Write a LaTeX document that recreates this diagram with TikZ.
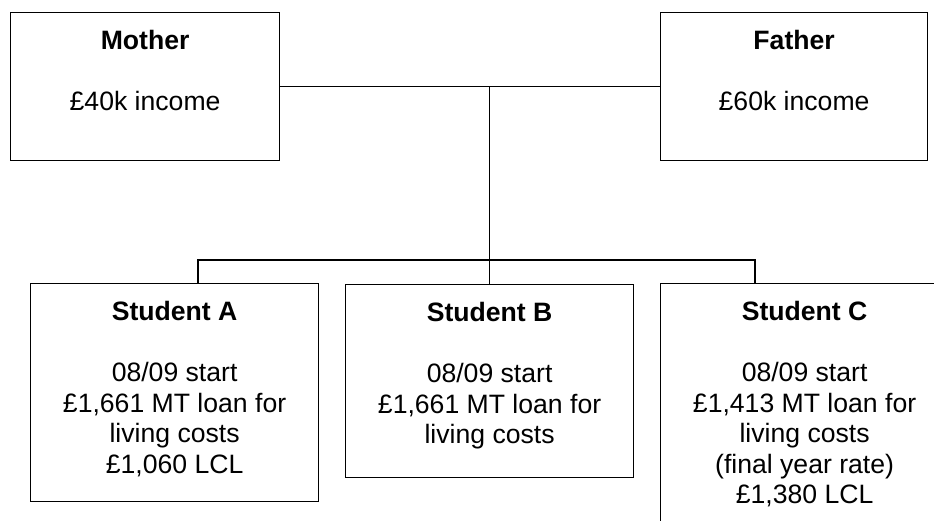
\documentclass[tikz,border=0pt]{standalone}
\usepackage{fontspec}
\setmainfont{Liberation Sans}
\begin{document}
\begin{tikzpicture}[x=1pt,y=-1pt,line width=1.2pt,
  box/.style={draw,rectangle,inner sep=0pt,anchor=north west},
  txt/.style={anchor=north,align=center,inner sep=0pt,
    font=\fontsize{26.6}{30.5}\selectfont}]
% page frame (student C runs off the edge)
\path[use as bounding box,clip] (0,0) rectangle (934,520);
% parents
\node[box,minimum width=269,minimum height=148] (mother) at (10,12) {};
\node[box,minimum width=267,minimum height=148] (father) at (660,12) {};
\node[txt] (mothertxt) at ([yshift=-18pt]mother.north) {\textbf{Mother}\\[30.5pt]£40k income};
\node[txt] (fathertxt) at ([yshift=-18pt]father.north) {\textbf{Father}\\[30.5pt]£60k income};
% students
\node[box,minimum width=288,minimum height=218] (stuA) at (30,283) {};
\node[box,minimum width=288,minimum height=193] (stuB) at (345,284) {};
\node[box,minimum width=288,minimum height=250] (stuC) at (660,283) {};
\node[txt] (stuAtxt) at ([yshift=-18pt]stuA.north) {\textbf{Student A}\\[30.5pt]08/09 start\\£1,661 MT loan for\\living costs\\£1,060 LCL};
\node[txt] (stuBtxt) at ([yshift=-18pt]stuB.north) {\textbf{Student B}\\[30.5pt]08/09 start\\£1,661 MT loan for\\living costs};
\node[txt] (stuCtxt) at ([yshift=-18pt]stuC.north) {\textbf{Student C}\\[30.5pt]08/09 start\\£1,413 MT loan for\\living costs\\(final year rate)\\£1,380 LCL};
% family tree lines
\coordinate (split) at (stuB.north |- mother.east);
\coordinate (barA) at (198,260);
\coordinate (barC) at (755,260);
\draw (mother.east) -- (father.west);
\draw (split) -- (stuB.north);
\draw (barA |- stuA.north) -- (barA) -- (barC) -- (barC |- stuC.north);
\end{tikzpicture}
\end{document}
